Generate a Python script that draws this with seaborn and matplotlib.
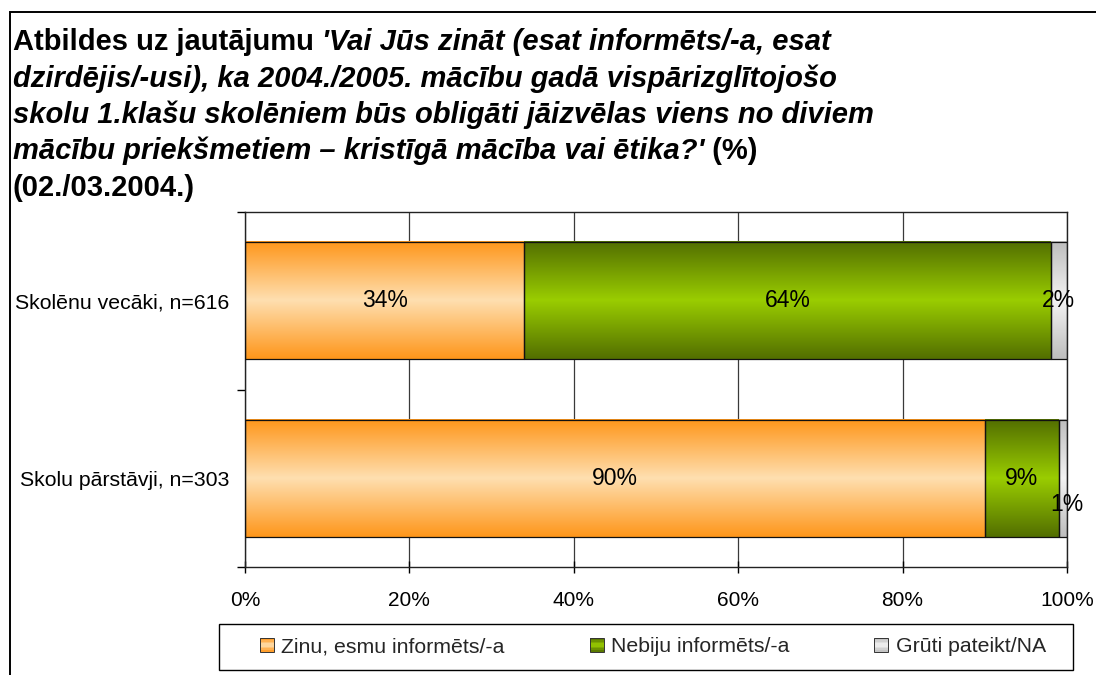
import numpy as np
import pandas as pd
import matplotlib
matplotlib.use("Agg")
import matplotlib.pyplot as plt
from matplotlib.patches import Rectangle
from matplotlib.legend_handler import HandlerBase
from matplotlib.colors import to_rgb
import seaborn as sns

# ---------------- data ----------------
categories = ["Skolēnu vecāki, n=616", "Skolu pārstāvji, n=303"]
series_names = ["Zinu, esmu informēts/-a", "Nebiju informēts/-a", "Grūti pateikt/NA"]
informed = [34, 90]
not_informed = [64, 9]
hard_to_say = [2, 1]
x_ticks = [0, 20, 40, 60, 80, 100]
x_tick_labels = ["0%", "20%", "40%", "60%", "80%", "100%"]

# ---------------- style ----------------
edge_colors = ["#FF961A", "#526E00", "#BDBDBD"]
center_colors = ["#FEDFB0", "#9ACD00", "#F3F3F3"]
# label offsets (points) for the last series (Excel moved the small label)
last_label_offsets = [(0, 0), (3, -19)]

sns.set_theme(style="white")
plt.rcParams["font.family"] = ["Liberation Sans", "DejaVu Sans"]

W, H = 1096, 675
fig = plt.figure(figsize=(W / 100, H / 100), dpi=100)
fig.patch.set_facecolor("white")
ax = fig.add_axes([245 / W, 108 / H, 822 / W, 355 / H])

series = [informed, not_informed, hard_to_say]
left = np.zeros(len(categories))
for vals, name, col in zip(series, series_names, edge_colors):
    df = pd.DataFrame({"cat": categories, "val": vals})
    sns.barplot(data=df, x="val", y="cat", orient="y", color=col, saturation=1,
                width=0.66, left=left.copy(), edgecolor="#111111", linewidth=0.9,
                errorbar=None, ax=ax, zorder=3)
    left += np.array(vals, dtype=float)


def gradient(edge, center, n=256):
    t = np.abs(np.linspace(-1, 1, n))
    e = np.array(to_rgb(edge))
    c = np.array(to_rgb(center))
    arr = c[None, :] + (e - c)[None, :] * (t[:, None] ** 1.0)
    return arr[:, None, :]


for cont, e, c in zip(ax.containers, edge_colors, center_colors):
    for p in cont.patches:
        x0, y0, w, h = p.get_x(), p.get_y(), p.get_width(), p.get_height()
        ax.imshow(gradient(e, c), extent=[x0, x0 + w, y0 + h, y0], aspect="auto",
                  zorder=2.5, interpolation="bilinear")
        p.set_facecolor("none")

# data labels
for si, (cont, vals) in enumerate(zip(ax.containers, series)):
    for bi, (p, v) in enumerate(zip(cont.patches, vals)):
        cx = p.get_x() + p.get_width() / 2
        cy = p.get_y() + p.get_height() / 2
        off = last_label_offsets[bi] if si == len(series) - 1 else (0, 0)
        ax.annotate(f"{v}%", (cx, cy), xytext=off, textcoords="offset points",
                    ha="center", va="center", fontsize=16.5, color="black", zorder=6)

# axes styling
ax.set_xlim(0, 100)
ax.set_ylim(1.5, -0.5)
ax.set_aspect("auto")
ax.set_xticks(x_ticks)
ax.set_xticklabels(x_tick_labels, fontsize=15)
ax.set_yticks(range(len(categories)))
ax.set_yticklabels(categories, fontsize=15.3)
ax.set_yticks([-0.5, 0.5, 1.5], minor=True)
ax.set_xlabel("")
ax.set_ylabel("")
ax.tick_params(axis="x", which="major", direction="inout", length=9, width=1,
               color="black", pad=13, bottom=True, labelcolor="black")
ax.tick_params(axis="y", which="major", length=0, pad=11.5, left=False, labelcolor="black")
ax.tick_params(axis="y", which="minor", direction="out", length=6, width=1,
               color="black", left=True)
ax.grid(axis="x", color="#3a3a3a", linewidth=0.9)
ax.grid(axis="y", visible=False)
ax.set_axisbelow(True)
for s in ax.spines.values():
    s.set_visible(True)
    s.set_color("#222222")
    s.set_linewidth(1.0)

# title (mixed bold / bold italic)
title_lines = [
    [("Atbildes uz jautājumu ", False), ("'Vai Jūs zināt (esat informēts/-a, esat", True)],
    [("dzirdējis/-usi), ka 2004./2005. mācību gadā vispārizglītojošo", True)],
    [("skolu 1.klašu skolēniem būs obligāti jāizvēlas viens no diviem", True)],
    [("mācību priekšmetiem – kristīgā mācība vai ētika?'", True), (" (%)", False)],
    [("(02./03.2004.)", False)],
]
baselines = [50, 87, 123, 159, 196]
for pieces, yb in zip(title_lines, baselines):
    prev = None
    for txt, ital in pieces:
        kw = dict(fontsize=21, fontweight="bold",
                  fontstyle="italic" if ital else "normal", color="black")
        if prev is None:
            prev = fig.text(13 / W, 1 - yb / H, txt, ha="left", va="baseline", **kw)
        else:
            prev = ax.annotate(txt, xy=(1, 0), xycoords=prev, ha="left", va="bottom",
                               annotation_clip=False, **kw)


# legend with gradient squares
class GradientHandler(HandlerBase):
    def __init__(self, edge, center):
        super().__init__()
        self.edge = np.array(to_rgb(edge))
        self.center = np.array(to_rgb(center))

    def create_artists(self, legend, orig_handle, xdescent, ydescent, width, height,
                       fontsize, trans):
        n = 8
        x0, y0 = -xdescent, -ydescent
        arts = []
        for i in range(n):
            t = abs(2 * (i + 0.5) / n - 1)
            col = self.center + (self.edge - self.center) * t
            arts.append(Rectangle((x0, y0 + i * height / n), width, height / n,
                                  facecolor=col, edgecolor="none", transform=trans))
        arts.append(Rectangle((x0, y0), width, height, facecolor="none",
                              edgecolor="#333333", linewidth=0.7, transform=trans))
        return arts


handles = [Rectangle((0, 0), 1, 1) for _ in series_names]
hmap = {h: GradientHandler(e, c) for h, e, c in zip(handles, edge_colors, center_colors)}
fig.legend(handles=handles, labels=series_names, handler_map=hmap, ncol=3,
           loc="center", bbox_to_anchor=(653 / W, 1 - 647 / H), frameon=False,
           fontsize=15.3, columnspacing=4.0, handletextpad=0.35,
           handlelength=0.65, handleheight=0.6)
fig.add_artist(Rectangle((219 / W, 1 - 670 / H), 854 / W, 46 / H,
                         transform=fig.transFigure, fill=False,
                         edgecolor="black", linewidth=1.0))

# outer chart border (top and left visible)
fig.add_artist(Rectangle((10 / W, -0.05), 1.2, 1.05 - 12 / H, transform=fig.transFigure,
                         fill=False, edgecolor="black", linewidth=1.4, clip_on=False))

fig.savefig("out.png", dpi=100)
